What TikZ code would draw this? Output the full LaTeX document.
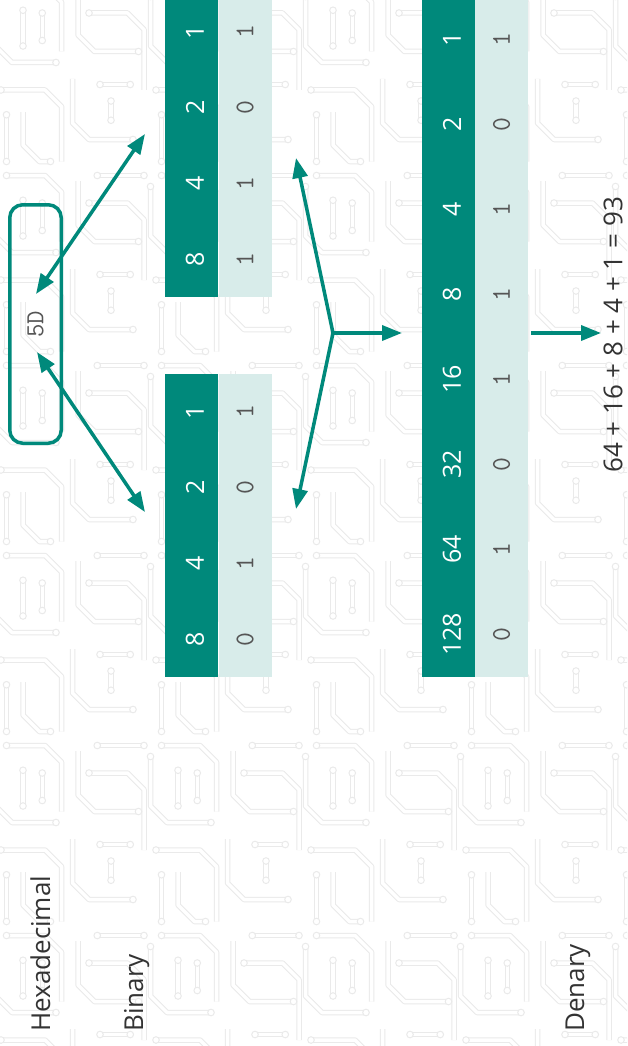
\documentclass[tikz,border=0pt]{standalone}
\usepackage{fontspec}
\setmainfont{Open Sans}
\usetikzlibrary{arrows.meta}
\definecolor{tealdark}{HTML}{00897B}
\definecolor{teallight}{HTML}{D8ECEA}
\definecolor{digitgray}{HTML}{555555}
\definecolor{labelgray}{HTML}{333333}
\definecolor{tracegray}{HTML}{EAEAEA}
\tikzset{
  dcell/.style={fill=tealdark, draw=none, inner sep=0pt, minimum width=53pt},
  lcell/.style={fill=teallight, draw=none, inner sep=0pt, minimum width=53pt},
  wnum/.style={text=white, rotate=90, inner sep=0pt, font=\fontsize{25}{25}\selectfont},
  gnum/.style={text=digitgray, rotate=90, inner sep=0pt, font=\ttfamily\fontsize{27}{27}\selectfont},
  sidelabel/.style={text=labelgray, rotate=90, inner sep=0pt, anchor=base west, font=\fontsize{26}{26}\selectfont},
  conn/.style={draw=tealdark, line width=3.5pt, line cap=butt},
  tip/.style={-{Triangle[length=20pt,width=15pt]}},
  dtip/.style={{Triangle[length=20pt,width=15pt]}-{Triangle[length=20pt,width=15pt]}},
  trace/.style={draw=tracegray, line width=1pt, double=white, double distance=3.5pt, line join=round},
  pad/.style={draw=tracegray, line width=1pt, fill=white}
}
\begin{document}
\begin{tikzpicture}[x=1pt,y=-1pt]
\useasboundingbox (0,0) rectangle (627,1046);
\fill[white] (0,0) rectangle (627,1046);

% faint circuit-board background
\begin{scope}
\clip (0,0) rectangle (627,1046);
\foreach \tx in {-10,145,300,455,610}{
 \foreach \ty in {-20,170,360,550,740,930}{
  \begin{scope}[shift={(\tx,\ty)}, scale=0.55]
   \draw[trace] (10,30) -- (10,120) -- (40,150) -- (120,150);
   \draw[trace] (30,10) -- (100,10) -- (130,40) -- (130,130);
   \draw[trace] (60,55) -- (60,120);
   \draw[trace] (160,20) -- (160,100) -- (190,130) -- (270,130);
   \draw[trace] (195,10) -- (280,10);
   \draw[trace] (180,60) -- (250,60) -- (280,90) -- (280,200);
   \draw[trace] (20,200) -- (100,200) -- (130,230) -- (130,330);
   \draw[trace] (150,180) -- (150,260) -- (180,290) -- (260,290);
   \draw[trace] (30,245) -- (30,330);
   \draw[trace] (60,240) -- (60,300) -- (90,330) -- (110,330);
   \draw[trace] (200,190) -- (255,190);
   \draw[trace] (220,220) -- (220,255);
   \draw[trace] (95,60) -- (95,110);
   \foreach \p in {(120,150),(60,55),(60,120),(270,130),(195,10),(280,10),(180,60),(20,200),(260,290),(30,245),(30,330),(110,330),(200,190),(255,190),(220,220),(220,255),(95,60),(95,110),(10,30),(30,10)}
     \draw[pad] \p circle (6);
  \end{scope}
 }
}
\end{scope}

% left binary box (upper nibble 0101)
\foreach \w/\b [count=\i from 0] in {1/1,2/0,4/1,8/0}{
  \node[dcell, minimum height=75.75pt] (la\i) at (191.5,{374+37.875+75.75*\i}) {};
  \node[lcell, minimum height=75.75pt] (lb\i) at (245,{374+37.875+75.75*\i}) {};
  \node[wnum] at ([xshift=3.5pt]la\i.center) {\w};
  \node[gnum] at (lb\i.center) {\b};
}
% right binary box (lower nibble 1101)
\foreach \w/\b [count=\i from 0] in {1/1,2/0,4/1,8/1}{
  \node[dcell, minimum height=75.75pt] (ra\i) at (191.5,{-6+37.875+75.75*\i}) {};
  \node[lcell, minimum height=75.75pt] (rb\i) at (245,{-6+37.875+75.75*\i}) {};
  \node[wnum] at ([xshift=3.5pt]ra\i.center) {\w};
  \node[gnum] at (rb\i.center) {\b};
}
% denary box
\foreach \w/\b [count=\i from 0] in {1/1,2/0,4/1,8/1,16/1,32/0,64/1,128/0}{
  \node[dcell, minimum height=85pt] (da\i) at (448.5,{-3+42.5+85*\i}) {};
  \node[lcell, minimum height=85pt] (db\i) at (501.5,{-3+42.5+85*\i}) {};
  \node[wnum] at ([xshift=3.5pt]da\i.center) {\w};
  \node[gnum] at (db\i.center) {\b};
}

% hexadecimal box
\node[draw=tealdark, line width=3.5pt, rounded corners=13pt, rotate=90,
      minimum width=238.5pt, minimum height=51.5pt, inner sep=0pt,
      text=digitgray, font=\ttfamily\fontsize{26}{26}\selectfont] (hex) at (35.5,324) {5D};

% side labels
\node[sidelabel] (lhex) at (50,1032) {Hexadecimal};
\node[sidelabel] (lbin) at (143,1032) {Binary};
\node[sidelabel] (lden) at (584,1032) {Denary};

% sum
\node[text=labelgray, rotate=90, inner sep=0pt, font=\fontsize{26}{26}\selectfont] (sum) at (613,335) {64 + 16 + 8 + 4 + 1 = 93};

% connector points
\coordinate (h1) at (36,294);
\coordinate (r1) at (145,134);
\coordinate (h2) at (37,352);
\coordinate (l1) at (145,512);
\coordinate (j) at (333,333);
\coordinate (bu) at (296,158);
\coordinate (bd) at (296,509);
\coordinate (br) at (402,333);
\coordinate (ds) at (531,333);
\coordinate (de) at (601,333);

\draw[conn, dtip] (r1) -- (h1);
\draw[conn, dtip] (h2) -- (l1);
\draw[conn, tip] (j) -- (bu);
\draw[conn, tip] (j) -- (bd);
\draw[conn, tip] ([xshift=-1.75pt]j) -- (br);
\draw[conn, tip] (ds) -- (de);
\end{tikzpicture}
\end{document}
